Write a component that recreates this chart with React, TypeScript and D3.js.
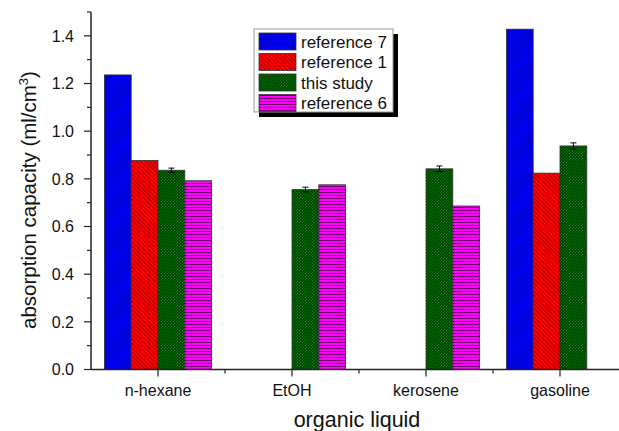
import React, { useEffect, useRef } from 'react';
import * as d3 from 'd3';

const categories = ['n-hexane', 'EtOH', 'kerosene', 'gasoline'];
const seriesNames = ['reference 7', 'reference 1', 'this study', 'reference 6'];
// null = no bar for that liquid
const ref7 = [1.236, null, null, 1.428];
const ref1 = [0.877, null, null, 0.824];
const thisStudy = [0.836, 0.755, 0.842, 0.938];
const thisStudyErr = [0.009, 0.01, 0.012, 0.013];
const ref6 = [0.792, 0.775, 0.686, null];
const yTicks = [0, 0.2, 0.4, 0.6, 0.8, 1.0, 1.2, 1.4];

const fills = ['#0000ff', '#ff0000', '#006a00', '#ff00ff'];
const font = 'Liberation Sans, Arial, sans-serif';

const App: React.FC = () => {
  const svgRef = useRef<SVGSVGElement>(null);
  const width = 619;
  const height = 431;

  useEffect(() => {
    if (!svgRef.current) return;
    const svg = d3.select(svgRef.current);
    svg.selectAll('*').remove();

    const x0 = 91, x1 = 627, yTop = 12, yBot = 369.5;
    const x = d3.scaleBand<string>().domain(categories).range([x0, x1]);
    const y = d3.scaleLinear().domain([0, 1.5]).range([yBot, yTop]);
    const bw = x.bandwidth() * 0.2;

    // patterns
    const defs = svg.append('defs');
    const pBlue = defs.append('pattern').attr('id', 'p0').attr('patternUnits', 'userSpaceOnUse')
      .attr('width', 3).attr('height', 3).attr('patternTransform', 'rotate(45)');
    pBlue.append('rect').attr('width', 3).attr('height', 3).attr('fill', fills[0]);
    pBlue.append('line').attr('x1', 0).attr('y1', 0).attr('x2', 0).attr('y2', 3).attr('stroke', '#000060').attr('stroke-width', 1);

    const pRed = defs.append('pattern').attr('id', 'p1').attr('patternUnits', 'userSpaceOnUse')
      .attr('width', 3).attr('height', 3).attr('patternTransform', 'rotate(-45)');
    pRed.append('rect').attr('width', 3).attr('height', 3).attr('fill', fills[1]);
    pRed.append('line').attr('x1', 0).attr('y1', 0).attr('x2', 0).attr('y2', 3).attr('stroke', '#600000').attr('stroke-width', 1);

    const pGreen = defs.append('pattern').attr('id', 'p2').attr('patternUnits', 'userSpaceOnUse')
      .attr('width', 3).attr('height', 3);
    pGreen.append('rect').attr('width', 3).attr('height', 3).attr('fill', '#007a00');
    pGreen.append('rect').attr('width', 1.5).attr('height', 1.5).attr('fill', '#003000');
    pGreen.append('rect').attr('x', 1.5).attr('y', 1.5).attr('width', 1.5).attr('height', 1.5).attr('fill', '#003000');

    const pMag = defs.append('pattern').attr('id', 'p3').attr('patternUnits', 'userSpaceOnUse')
      .attr('width', 3).attr('height', 3);
    pMag.append('rect').attr('width', 3).attr('height', 3).attr('fill', fills[3]);
    pMag.append('line').attr('x1', 0).attr('y1', 0.5).attr('x2', 3).attr('y2', 0.5).attr('stroke', '#700070').attr('stroke-width', 1);

    const allSeries = [ref7, ref1, thisStudy, ref6];
    const offsets = [-2, -1, 0, 1];

    const bars = svg.append('g');
    allSeries.forEach((vals, s) => {
      vals.forEach((v, i) => {
        if (v == null) return;
        const cx = (x(categories[i]) as number) + x.bandwidth() / 2;
        bars.append('rect')
          .attr('x', cx + offsets[s] * bw)
          .attr('y', y(v))
          .attr('width', bw)
          .attr('height', y(0) - y(v))
          .attr('fill', `url(#p${s})`)
          .attr('stroke', '#333')
          .attr('stroke-width', 0.8);
      });
    });

    // error bars for this study
    thisStudy.forEach((v, i) => {
      const cx = (x(categories[i]) as number) + x.bandwidth() / 2 + bw / 2;
      const e = thisStudyErr[i];
      const g = bars.append('g').attr('stroke', '#000').attr('stroke-width', 1);
      g.append('line').attr('x1', cx).attr('x2', cx).attr('y1', y(v - e)).attr('y2', y(v + e));
      g.append('line').attr('x1', cx - 3).attr('x2', cx + 3).attr('y1', y(v + e)).attr('y2', y(v + e));
      g.append('line').attr('x1', cx - 3).attr('x2', cx + 3).attr('y1', y(v - e)).attr('y2', y(v - e));
    });

    // y axis
    const yAxis = svg.append('g').attr('transform', `translate(${x0},0)`);
    yAxis.append('line').attr('x1', 0).attr('x2', 0).attr('y1', yTop).attr('y2', yBot).attr('stroke', '#222').attr('stroke-width', 1.5);
    d3.range(0, 1.51, 0.1).forEach((t) => {
      const major = Math.abs(Math.round(t * 10) % 2) === 0;
      yAxis.append('line').attr('x1', major ? -7 : -4).attr('x2', 0).attr('y1', y(t)).attr('y2', y(t))
        .attr('stroke', '#222').attr('stroke-width', 1.2);
    });
    yTicks.forEach((t) => {
      yAxis.append('text').attr('x', -17).attr('y', y(t)).attr('dy', '0.36em')
        .attr('text-anchor', 'end').attr('font-family', font)
        .attr('font-size', 16).attr('fill', '#111').text(d3.format('.1f')(t));
    });

    // x axis
    const xAxis = svg.append('g').attr('transform', `translate(0,${yBot})`);
    xAxis.append('line').attr('x1', x0).attr('x2', x1).attr('y1', 0).attr('y2', 0).attr('stroke', '#222').attr('stroke-width', 1.5);
    categories.forEach((c, i) => {
      const cx = (x(c) as number) + x.bandwidth() / 2;
      xAxis.append('line').attr('x1', cx).attr('x2', cx).attr('y1', 0).attr('y2', 7).attr('stroke', '#222').attr('stroke-width', 1.2);
      if (i > 0) {
        const mx = x(c) as number;
        xAxis.append('line').attr('x1', mx).attr('x2', mx).attr('y1', 0).attr('y2', 4).attr('stroke', '#222').attr('stroke-width', 1.2);
      }
      xAxis.append('text').attr('x', cx).attr('y', 26.5).attr('text-anchor', 'middle')
        .attr('font-family', font).attr('font-size', 16).attr('fill', '#111').text(c);
    });

    // axis titles
    svg.append('text').attr('x', 357).attr('y', 427).attr('text-anchor', 'middle')
      .attr('font-family', font).attr('font-size', 21.5).attr('fill', '#111')
      .text('organic liquid');
    const yl = svg.append('text').attr('transform', `translate(36,200) rotate(-90)`).attr('text-anchor', 'middle')
      .attr('font-family', font).attr('font-size', 20.5).attr('fill', '#111');
    yl.append('tspan').text('absorption capacity (ml/cm');
    yl.append('tspan').attr('dy', -8).attr('font-size', 13).text('3');
    yl.append('tspan').attr('dy', 8).text(')');

    // legend
    const lg = svg.append('g').attr('transform', 'translate(254,29)');
    lg.append('rect').attr('x', 5).attr('y', 5).attr('width', 139).attr('height', 83).attr('fill', '#000');
    lg.append('rect').attr('x', 0).attr('y', 0).attr('width', 139).attr('height', 83).attr('fill', '#fff')
      .attr('stroke', '#999').attr('stroke-width', 1);
    seriesNames.forEach((n, i) => {
      const ry = 4 + i * 20.5;
      lg.append('rect').attr('x', 5).attr('y', ry).attr('width', 37).attr('height', 17)
        .attr('fill', `url(#p${i})`).attr('stroke', '#333').attr('stroke-width', 0.8);
      lg.append('text').attr('x', 47).attr('y', ry + 8.5).attr('dy', '0.36em')
        .attr('font-family', font).attr('font-size', 17).attr('fill', '#111').text(n);
    });
  }, []);

  return (
    <svg ref={svgRef} width={width} height={height}
      style={{ position: 'absolute', left: 0, top: 0, background: '#fff' }} />
  );
};

export default App;
